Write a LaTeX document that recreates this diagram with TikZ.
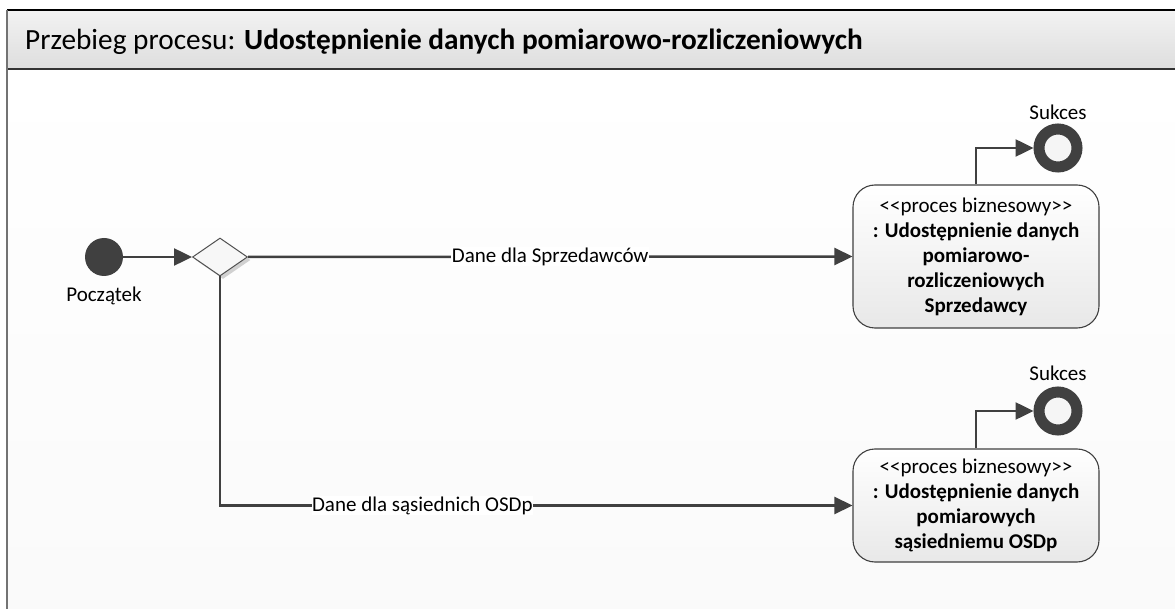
\documentclass[tikz,border=0pt]{standalone}
\usepackage{fontspec}
\setmainfont{Carlito}
\usetikzlibrary{shapes.geometric,arrows.meta,shadows}
\definecolor{ink}{HTML}{404040}
\definecolor{edge}{HTML}{505050}
\begin{document}
\begin{tikzpicture}[x=1pt,y=-1pt,
  lbl/.style={font=\fontsize{21}{25}\selectfont, text=black, inner sep=1pt},
  flow/.style={draw=ink, line width=2.5pt, -{Triangle[length=18pt,width=17pt]}},
  procbox/.style={draw=ink, line width=1.1pt, rounded corners=22pt, top color=white, bottom color=black!9,
    minimum width=246pt, align=center, font=\fontsize{21}{25}\selectfont, inner sep=0pt},
  endnode/.style={circle, draw=ink, line width=11pt, fill=black!4, minimum size=38pt, inner sep=0pt},
  linelbl/.style={lbl, fill=white, inner sep=0.5pt}]
\useasboundingbox (0,0) rectangle (1175,609);
\fill[white] (0,0) rectangle (1175,609);
% frame body
\shade[top color=white, bottom color=black!2] (7,69) rectangle (1176,610);
% header
\shade[top color=black!5, bottom color=black!13] (7,10) rectangle (1176,69);
\draw[black, line width=2pt] (7,10) -- (1176,10);
\draw[black!80, line width=2pt] (7,69) -- (1176,69);
\draw[black!55, line width=2pt] (7,10) -- (7,610);
\node[anchor=base west, inner sep=0pt, font=\fontsize{29.3}{34}\selectfont] (title) at (25,50)
  {Przebieg procesu: \textbf{Udostępnienie danych pomiarowo-rozliczeniowych}};
% start
\node[circle, fill=ink, minimum size=38pt, inner sep=0pt] (start) at (104,257) {};
\node[lbl] (startlbl) at (104,296) {Początek};
% decision
\node[diamond, draw=edge, line width=1pt, fill=black!3, minimum width=55pt, minimum height=38pt, inner sep=0pt,
  drop shadow={shadow xshift=3pt, shadow yshift=-3pt, fill=black!18, opacity=1}] (dec) at (220,257) {};
% process boxes
\node[procbox, minimum height=143pt] (box1) at (976,256.5)
  {{<}{<}proces biznesowy{>}{>}\\\textbf{: Udostępnienie danych}\\\textbf{pomiarowo-}\\\textbf{rozliczeniowych}\\\textbf{Sprzedawcy}};
\node[procbox, minimum height=113pt] (box2) at (976,505.5)
  {{<}{<}proces biznesowy{>}{>}\\\textbf{: Udostępnienie danych}\\\textbf{pomiarowych}\\\textbf{sąsiedniemu OSDp}};
% end nodes
\node[endnode] (end1) at (1058,148) {};
\node[lbl] (end1lbl) at (1058,112) {Sukces};
\node[endnode] (end2) at (1058,411) {};
\node[lbl] (end2lbl) at (1058,373) {Sukces};
% connectors
\draw[flow] (start) -- (dec.west);
\draw[flow] (dec.east) -- node[linelbl, pos=0.5] {Dane dla Sprzedawców} (box1.west);
\draw[flow] (dec.south) |- node[linelbl, pos=0.66] {Dane dla sąsiednich OSDp} (box2.west);
\draw[flow] (box1.north) |- (end1.west);
\draw[flow] (box2.north) |- (end2.west);
\end{tikzpicture}
\end{document}
